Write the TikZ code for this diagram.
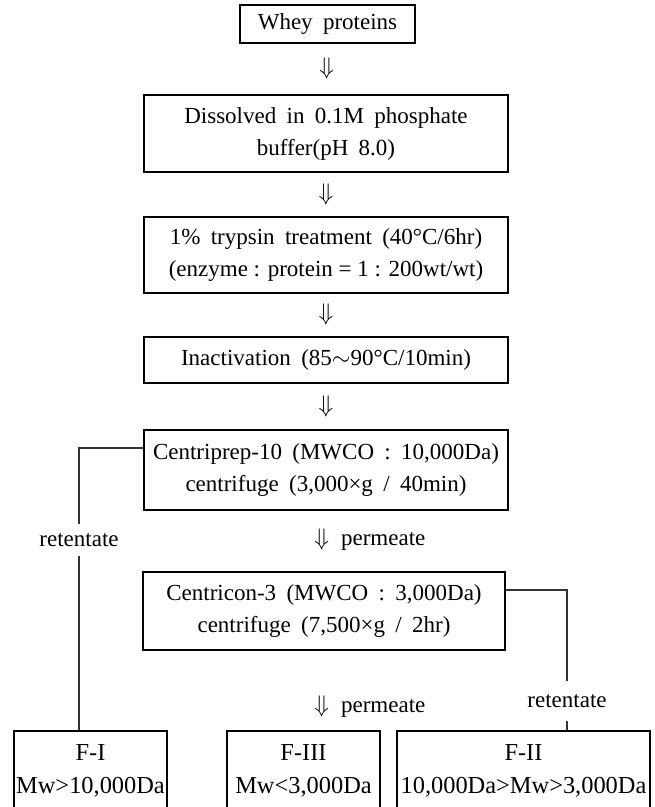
\documentclass[tikz,border=0pt]{standalone}
\usepackage{fontspec}
\setmainfont{Liberation Serif}
\usetikzlibrary{calc}
\newcommand\W{\hspace{0.45em}}
\begin{document}
\begin{tikzpicture}[x=0.5pt,y=-0.5pt,
  every node/.style={font=\fontsize{11.5}{16}\selectfont, inner sep=0pt},
  box/.style={draw, line width=1pt, align=center},
  fbox/.style={box, font=\fontsize{12.2}{16.5}\selectfont, minimum height=40pt},
  conn/.style={line width=0.55pt, black!80},
  darrow/.style={inner sep=0pt},
  lab/.style={inner xsep=2pt}]
\useasboundingbox (0,0) rectangle (654,807);
\clip (0,0) rectangle (654,807);

\node[box, minimum width=87.5pt, minimum height=19pt] (b1) at (327.5,24) {Whey\W proteins};
\node[box, minimum width=182pt, minimum height=38.5pt] (b2) at (326,133.5)
  {Dissolved\W in\W 0.1M\W phosphate\\buffer(pH\W 8.0)};
\node[box, minimum width=182pt, minimum height=38pt] (b3) at (326,255)
  {1\%\W trypsin\W treatment\W (40°C/6hr)\\(enzyme : protein = 1 : 200wt/wt)};
\node[box, minimum width=182pt, minimum height=23pt] (b4) at (326,360)
  {Inactivation\W (85$\sim$90°C/10min)};
\node[box, minimum width=182pt, minimum height=40pt] (b5) at (326,470)
  {Centriprep-10\W (MWCO\W :\W 10,000Da)\\centrifuge\W (3,000×g\W /\W 40min)};
\node[box, minimum width=181pt, minimum height=39pt] (b6) at (324,611)
  {Centricon-3\W (MWCO\W :\W 3,000Da)\\centrifuge\W (7,500×g\W /\W 2hr)};

\node[fbox, minimum width=76.5pt] (f1) at (90.5,771) {F-I\\Mw>10,000Da};
\node[fbox, minimum width=76.5pt] (f3) at (303.5,771) {F-III\\Mw<3,000Da};
\node[fbox, minimum width=126.5pt] (f2) at (523.5,771) {F-II\\10,000Da>Mw>3,000Da};

\node[darrow] (a1) at ($(b1.south)!0.5!(b2.north)$) {$\Downarrow$};
\node[darrow] (a2) at ($(b2.south)!0.5!(b3.north)$) {$\Downarrow$};
\node[darrow] (a3) at ($(b3.south)!0.5!(b4.north)$) {$\Downarrow$};
\node[darrow] (a4) at ($(b4.south)!0.5!(b5.north)$) {$\Downarrow$};

\node[anchor=west] (p1) at (314,540) {$\Downarrow$\hspace{6pt}permeate};
\node[anchor=west] (p2) at (314,707) {$\Downarrow$\hspace{6pt}permeate};

\node[lab, inner ysep=4.75pt] (r1) at (79,540) {retentate};
\node[lab, inner ysep=6.75pt] (r2) at (567,701) {retentate};

\coordinate (c1) at (79,448);
\draw[conn] (b5.west |- c1) -- (c1) -- (r1.north);
\draw[conn] (r1.south) -- (r1.south |- f1.north);

\coordinate (c2) at (567,590);
\draw[conn] (b6.east |- c2) -- (c2) -- (r2.north);
\draw[conn] (r2.south) -- (r2.south |- f2.north);
\end{tikzpicture}
\end{document}
